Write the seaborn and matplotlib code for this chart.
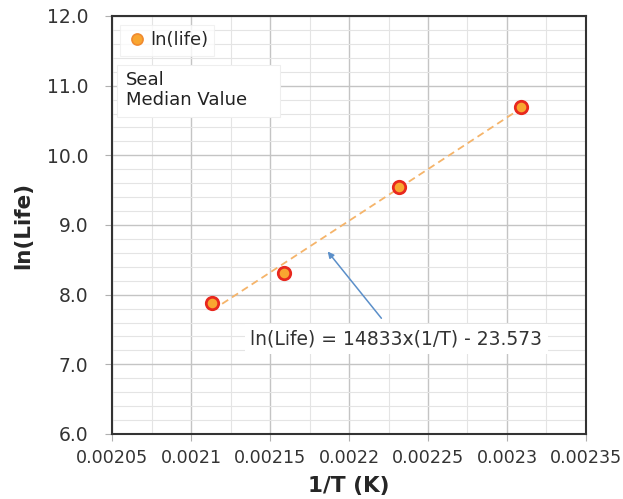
import numpy as np
import pandas as pd
import matplotlib
matplotlib.use("Agg")
import matplotlib.pyplot as plt
from matplotlib.ticker import MultipleLocator, FixedLocator
from matplotlib.lines import Line2D
from matplotlib.patches import Rectangle
import seaborn as sns

# data: median seal life at four test temperatures
inv_temp = [0.0021135, 0.0021591, 0.0022314, 0.0023087]
ln_life = [7.88, 8.31, 9.55, 10.70]

# trendline from the chart label
slope = 14833
intercept = -23.573
eq_label = "ln(Life) = 14833x(1/T) - 23.573"

x_ticks = [0.00205, 0.0021, 0.00215, 0.0022, 0.00225, 0.0023, 0.00235]
x_tick_labels = ["0.00205", "0.0021", "0.00215", "0.0022", "0.00225", "0.0023", "0.00235"]
y_ticks = [6.0, 7.0, 8.0, 9.0, 10.0, 11.0, 12.0]

df = pd.DataFrame({"inv_temp": inv_temp, "ln_life": ln_life})

sns.set_style("white")
plt.rcParams["font.family"] = ["DejaVu Sans"]

fig = plt.figure(figsize=(6.23, 4.99), dpi=100)
ax = fig.add_axes([0.1798, 0.1303, 0.7608, 0.8377])

# trendline
xl = np.array([min(inv_temp), max(inv_temp)])
ax.plot(xl, slope * xl + intercept, linestyle=(0, (4, 2.5)), color="#F5B46A",
        lw=1.3, zorder=2)

sns.scatterplot(data=df, x="inv_temp", y="ln_life", ax=ax, s=80,
                color="#F9A630", edgecolor="#E8281E", linewidth=2,
                legend=False, zorder=3)

ax.set_xlim(0.00205, 0.00235)
ax.set_ylim(6.0, 12.0)
ax.xaxis.set_major_locator(FixedLocator(x_ticks))
ax.set_xticklabels(x_tick_labels)
ax.xaxis.set_minor_locator(MultipleLocator(0.000025))
ax.yaxis.set_major_locator(FixedLocator(y_ticks))
ax.set_yticklabels([f"{v:.1f}" for v in y_ticks])
ax.yaxis.set_minor_locator(MultipleLocator(0.2))

ax.grid(which="major", color="#C4C4C4", lw=1.0)
ax.grid(which="minor", color="#E4E4E4", lw=0.8)
ax.set_axisbelow(True)
ax.tick_params(axis="x", which="major", pad=6, labelsize=12.6)
ax.tick_params(axis="y", which="major", pad=12, labelsize=13.5)
ax.tick_params(which="major", direction="out", length=5, width=0.8,
               color="#B0B0B0", labelcolor="#333333",
               bottom=True, left=True)
ax.tick_params(which="minor", length=0)
for sp in ax.spines.values():
    sp.set_color("#333333")
    sp.set_linewidth(1.5)

ax.set_xlabel("1/T (K)", fontsize=15.5, fontweight="bold", labelpad=6)
ax.set_ylabel("ln(Life)", fontsize=15.5, fontweight="bold", labelpad=10)

handle = Line2D([], [], marker="o", ls="none", markersize=8,
                markerfacecolor="#F9A630", markeredgecolor="#F08A30",
                markeredgewidth=1.2)
leg = ax.legend([handle], ["ln(life)"], loc="upper left",
                bbox_to_anchor=(0.017, 0.978), borderaxespad=0, fontsize=13,
                frameon=True, handletextpad=0.1, handlelength=1.2,
                borderpad=0.35, fancybox=False, edgecolor="#EEEEEE")
leg.get_frame().set_linewidth(0.8)

# "Seal / Median Value" text box
ax.add_patch(Rectangle((0.0105, 0.758), 0.344, 0.125, transform=ax.transAxes,
                       fc="white", ec="#EEEEEE", lw=0.8, zorder=5))
ax.text(0.03, 0.868, "Seal\nMedian Value", fontsize=13, color="#222222",
        va="top", ha="left", linespacing=1.15, transform=ax.transAxes,
        zorder=6)

ax.annotate("", xy=(0.0021854, 8.65), xytext=(0.0022216, 7.63),
            arrowprops=dict(arrowstyle="-|>", color="#5B8FC9", lw=1.1,
                            mutation_scale=9), zorder=4)
ax.text(0.0022299, 7.36, eq_label, fontsize=13.5, color="#333333",
        ha="center", va="center", zorder=5,
        bbox=dict(boxstyle="square,pad=0.3", fc="white", ec="none"))

fig.savefig("out.png", dpi=100)
